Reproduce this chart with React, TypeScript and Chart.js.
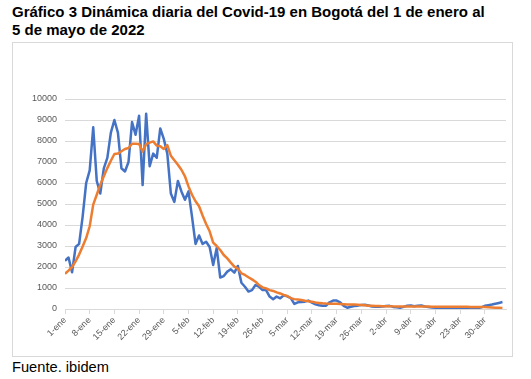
import React, { useEffect, useRef } from "react";
import { Chart, registerables } from "chart.js";

Chart.register(...registerables);

// Tick labels shown on the x axis (one every 7 days) and their day index
const tickLabels = ["1-ene", "8-ene", "15-ene", "22-ene", "29-ene", "5-feb", "12-feb", "19-feb", "26-feb", "5-mar", "12-mar", "19-mar", "26-mar", "2-abr", "9-abr", "16-abr", "23-abr", "30-abr"];
const tickDays = [0, 7, 14, 21, 28, 35, 42, 49, 56, 63, 70, 77, 84, 91, 98, 105, 112, 119];

// Daily cases, 1 Jan .. 5 May 2022 (125 days)
const dailyCases = [
  2300, 2450, 1750, 2950, 3100, 4400, 6000, 6600, 8650, 6100,
  5500, 6700, 7200, 8400, 9000, 8400, 6700, 6550, 7000, 8900,
  8300, 9200, 5900, 9300, 6800, 7400, 7200, 8600, 8100, 7400,
  5500, 5100, 6100, 5600, 5200, 5600, 4400, 3100, 3500, 3100,
  3200, 2950, 2100, 2900, 1500, 1570, 1780, 1890, 1730, 2050,
  1250, 1060, 830, 900, 1140, 1060, 900, 900, 590, 460,
  590, 510, 650, 600, 520, 240, 320, 330, 350, 400,
  300, 220, 180, 150, 160, 320, 400, 400, 320, 150,
  60, 110, 140, 160, 190, 200, 170, 120, 110, 110,
  120, 140, 150, 100, 80, 60, 100, 160, 170, 130,
  160, 170, 120, 90, 70, 60, 40, 30, 40, 50,
  60, 60, 50, 40, 40, 40, 30, 40, 80, 150,
  180, 210, 250, 290, 330,
];

// Moving average
const movingAverage = [
  1680, 1830, 2000, 2270, 2590, 2980, 3380, 3940, 4970, 5440,
  5920, 6320, 6710, 7060, 7380, 7400, 7510, 7620, 7670, 7870,
  7870, 7860, 7500, 7850, 7920, 7980, 7780, 7750, 7620, 7800,
  7300, 7080, 6870, 6630, 6320, 5840, 5440, 5130, 4890, 4450,
  4050, 3700, 3160, 3000, 2810, 2570, 2410, 2210, 2020, 1920,
  1700, 1620, 1510, 1410, 1300, 1140, 1030, 980, 900, 860,
  790, 740, 670, 620, 520, 470, 450, 430, 390, 370,
  350, 310, 290, 270, 260, 255, 250, 245, 240, 230,
  220, 215, 210, 200, 190, 175, 160, 150, 140, 140,
  135, 130, 130, 125, 120, 120, 120, 120, 120, 120,
  120, 115, 115, 115, 110, 110, 110, 110, 110, 110,
  110, 110, 110, 105, 105, 100, 100, 100, 95, 90,
  80, 70, 60, 55, 50,
];

const FONT = "'Liberation Sans', Arial, sans-serif";

export default function App() {
  const canvasRef = useRef<HTMLCanvasElement | null>(null);

  useEffect(() => {
    const ctx = canvasRef.current!;
    const chart = new Chart(ctx, {
      type: "line",
      data: {
        datasets: [
          {
            label: "Promedio",
            data: movingAverage.map((v, i) => ({ x: i, y: v })),
            borderColor: "#ED7D31",
            borderWidth: 2.5,
            pointRadius: 0,
            tension: 0,
            order: 0,
            borderJoinStyle: "round",
          },
          {
            label: "Casos diarios",
            data: dailyCases.map((v, i) => ({ x: i, y: v })),
            borderColor: "#4472C4",
            borderWidth: 2.5,
            pointRadius: 0,
            tension: 0,
            order: 1,
            borderJoinStyle: "round",
          },
        ],
      },
      options: {
        animation: false,
        responsive: false,
        maintainAspectRatio: false,
        layout: { padding: { left: 0, top: 56, right: 6, bottom: 0 } },
        plugins: { legend: { display: false }, tooltip: { enabled: false }, title: { display: false } },
        scales: {
          x: {
            type: "linear",
            min: 0,
            max: 125,
            grid: { display: true, drawOnChartArea: false, drawTicks: true, tickLength: 5, color: "#d9d9d9" },
            border: { display: true, color: "#d9d9d9" },
            ticks: {
              stepSize: 7,
              autoSkip: false,
              includeBounds: false,
              maxRotation: 45,
              minRotation: 45,
              padding: 1,
              color: "#595959",
              font: { family: FONT, size: 9 },
              callback: (v: any) => {
                const k = tickDays.indexOf(Number(v));
                return k >= 0 ? tickLabels[k] : null;
              },
            },
            afterFit: (s: any) => {
              s.height = 47;
            },
          },
          y: {
            min: 0,
            max: 10000,
            grid: { color: "#d9d9d9", drawTicks: false },
            border: { display: false },
            ticks: {
              stepSize: 1000,
              padding: 8,
              color: "#595959",
              font: { family: FONT, size: 9 },
              callback: (v: any) => String(v),
            },
            afterFit: (s: any) => {
              s.width = 52;
            },
          },
        },
      },
    });
    return () => chart.destroy();
  }, []);

  return (
    <div style={{ position: "fixed", left: 0, top: 0, width: 531, height: 379, background: "#fff", fontFamily: FONT }}>
      <div style={{ position: "absolute", left: 12, top: 3, fontWeight: "bold", fontSize: 15, lineHeight: "18px", color: "#000" }}>
        Gráfico 3 Dinámica diaria del Covid-19 en Bogotá del 1 de enero al
        <br />
        5 de mayo de 2022
      </div>
      <div style={{ position: "absolute", left: 12, top: 42, width: 499, height: 313, border: "1px solid #d9d9d9" }}>
        <canvas ref={canvasRef} width={499} height={313} style={{ display: "block", width: 499, height: 313 }} />
      </div>
      <div style={{ position: "absolute", left: 12, top: 359, fontSize: 14.67, lineHeight: "17px", color: "#000" }}>
        Fuente. ibidem
      </div>
    </div>
  );
}
